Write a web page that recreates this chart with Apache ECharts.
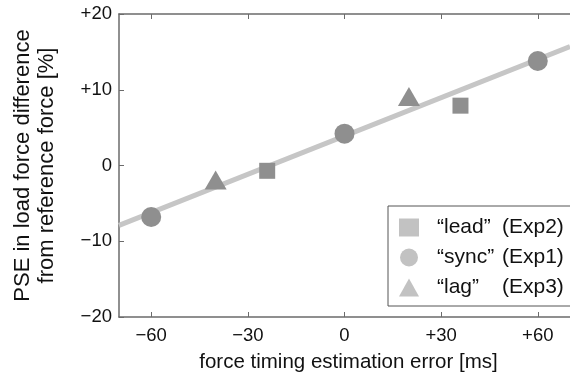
<!DOCTYPE html>
<html>
<head>
<meta charset="utf-8">
<script src="https://cdn.jsdelivr.net/npm/echarts@6/dist/echarts.min.js"></script>
<style>
  html, body { margin: 0; padding: 0; background: #fff; }
  #main { width: 570px; height: 380px; }
</style>
</head>
<body>
<div id="main"></div>
<script>
// values
var xTicks = [-60, -30, 0, 30, 60];
var leadPts = [[-24, -0.7], [36, 7.9]];
var syncPts = [[-60, -6.8], [0, 4.2], [60, 13.8]];
var lagPts = [[-40, -1.9], [20, 9.1]];
var fitLine = [[-70, -7.9], [70, 15.7]];

var chart = echarts.init(document.getElementById('main'));

function signed(v) {
  if (v > 0) return '+' + v;
  if (v < 0) return '\u2212' + Math.abs(v);
  return '0';
}

var font = 'Liberation Sans, Arial, sans-serif';
var axisCol = '#6b6b6b';
var markCol = '#8f8f8f';

var option = {
  animation: false,
  backgroundColor: '#fff',
  textStyle: { fontFamily: font },
  grid: { left: 119, top: 14, bottom: 63, right: -9 },
  legend: {
    orient: 'vertical',
    left: 388,
    top: 206,
    padding: [11, 8, 8, 11],
    itemGap: 9,
    itemWidth: 20,
    itemHeight: 18,
    borderColor: '#555',
    borderWidth: 1,
    backgroundColor: '#fff',
    itemStyle: { color: '#c2c2c2' },
    data: ['lead', 'sync', 'lag'],
    formatter: function (name) {
      var exp = { lead: '(Exp2)', sync: '(Exp1)', lag: '(Exp3)' };
      return '{a|\u201c' + name + '\u201d}{b|' + exp[name] + '}';
    },
    textStyle: {
      color: '#111',
      fontSize: 21,
      fontFamily: font,
      rich: {
        a: { fontSize: 21, fontFamily: font, color: '#111', width: 65, padding: [0, 0, 0, 13] },
        b: { fontSize: 21, fontFamily: font, color: '#111' }
      }
    }
  },
  xAxis: [{
    type: 'value',
    min: -70,
    max: 70,
    position: 'bottom',
    name: 'force timing estimation error [ms]',
    nameLocation: 'middle',
    nameGap: 35,
    nameTextStyle: { fontSize: 20.5, color: '#111', fontFamily: font, padding: [0, 0, 0, 8] },
    axisLine: { show: true, onZero: false, lineStyle: { color: axisCol, width: 1.5 } },
    axisTick: { show: true, inside: true, length: 5, customValues: xTicks, lineStyle: { color: axisCol } },
    axisLabel: { customValues: xTicks, formatter: signed, fontSize: 18.5, color: '#111', margin: 9 },
    splitLine: { show: false }
  }, {
    type: 'value',
    min: -70,
    max: 70,
    position: 'top',
    axisLine: { show: true, onZero: false, lineStyle: { color: axisCol, width: 1.5 } },
    axisTick: { show: true, inside: true, length: 5, customValues: xTicks, lineStyle: { color: axisCol } },
    axisLabel: { show: false },
    splitLine: { show: false }
  }],
  yAxis: {
    type: 'value',
    min: -20,
    max: 20,
    interval: 10,
    name: 'PSE in load force difference\nfrom reference force [%]',
    nameLocation: 'middle',
    nameGap: 60,
    nameTextStyle: { fontSize: 22, color: '#111', fontFamily: font, lineHeight: 24 },
    axisLine: { show: true, onZero: false, lineStyle: { color: axisCol, width: 1.5 } },
    axisTick: { show: true, inside: true, length: 5, lineStyle: { color: axisCol } },
    axisLabel: { formatter: signed, fontSize: 18.5, color: '#111', margin: 7 },
    splitLine: { show: false }
  },
  series: [{
    name: 'fit',
    type: 'line',
    data: fitLine,
    showSymbol: false,
    lineStyle: { color: '#c6c6c6', width: 5 },
    z: 1,
    silent: true
  }, {
    name: 'lead',
    type: 'scatter',
    data: leadPts,
    symbol: 'rect',
    symbolSize: 16,
    itemStyle: { color: markCol, opacity: 1 },
    z: 3
  }, {
    name: 'sync',
    type: 'scatter',
    data: syncPts,
    symbol: 'circle',
    symbolSize: 20,
    itemStyle: { color: markCol, opacity: 1 },
    z: 3
  }, {
    name: 'lag',
    type: 'scatter',
    data: lagPts,
    symbol: 'triangle',
    symbolSize: [22, 19],
    itemStyle: { color: markCol, opacity: 1 },
    z: 3
  }]
};

chart.setOption(option);
</script>
</body>
</html>
